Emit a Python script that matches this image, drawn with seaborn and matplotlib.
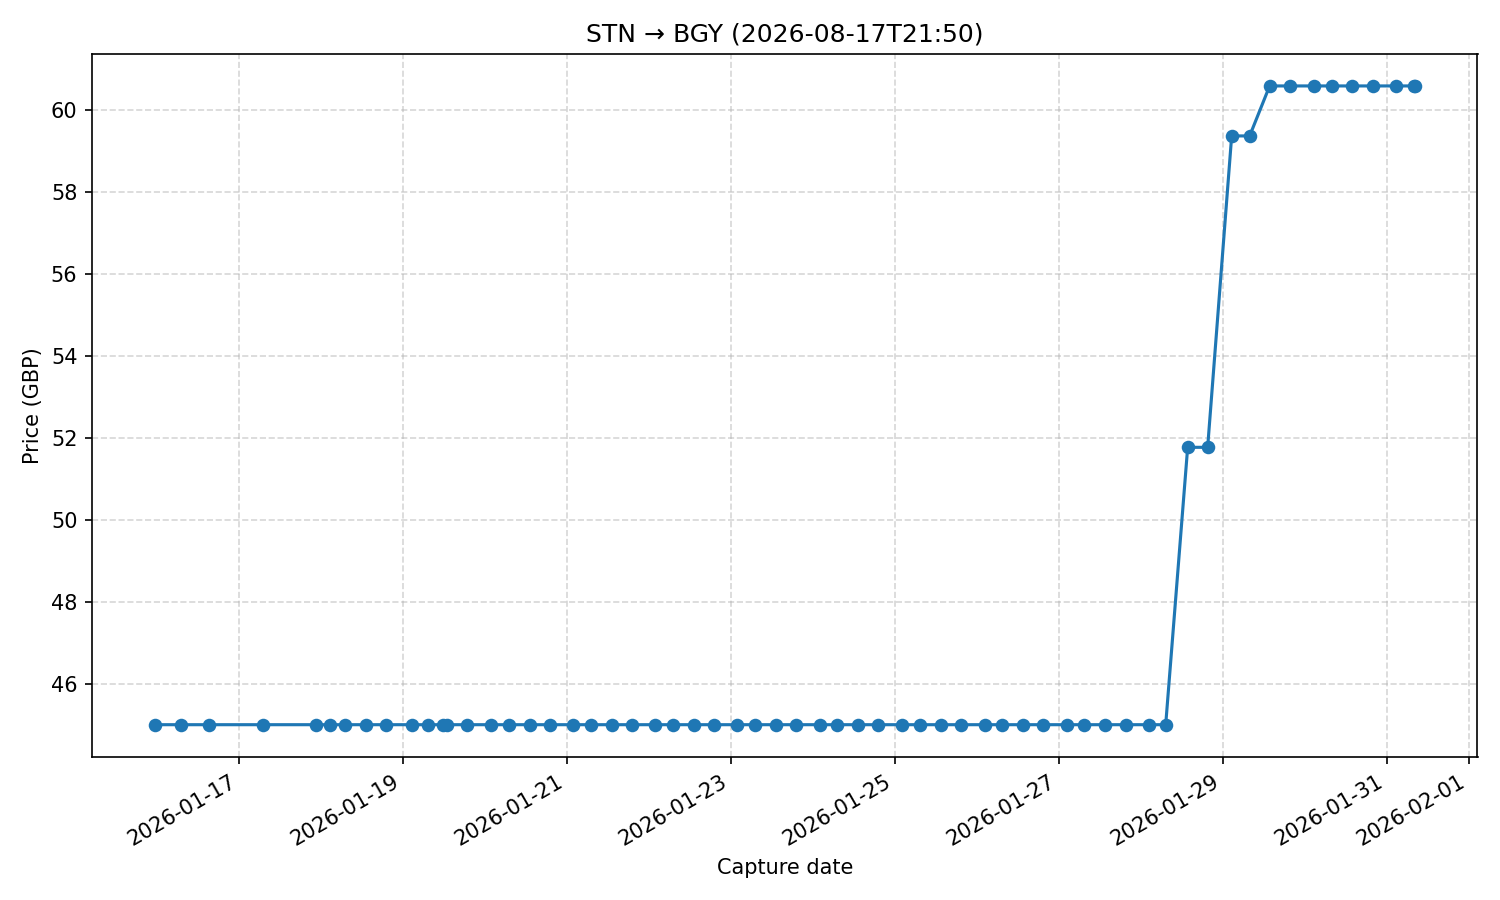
import matplotlib
matplotlib.use("Agg")
import matplotlib.pyplot as plt
import matplotlib.dates as mdates
import seaborn as sns
import pandas as pd

capture_times = [
    "2026-01-15 23:25", "2026-01-16 07:02", "2026-01-16 15:13", "2026-01-17 07:02",
    "2026-01-17 22:32", "2026-01-18 02:38", "2026-01-18 07:02", "2026-01-18 13:10",
    "2026-01-18 19:02", "2026-01-19 02:38", "2026-01-19 07:19", "2026-01-19 11:42",
    "2026-01-19 12:53", "2026-01-19 18:43", "2026-01-20 01:45", "2026-01-20 07:02",
    "2026-01-20 13:10", "2026-01-20 19:02", "2026-01-21 01:45", "2026-01-21 07:02",
    "2026-01-21 13:10", "2026-01-21 19:02", "2026-01-22 01:45", "2026-01-22 07:02",
    "2026-01-22 13:10", "2026-01-22 19:02", "2026-01-23 01:45", "2026-01-23 07:02",
    "2026-01-23 13:10", "2026-01-23 19:02", "2026-01-24 02:02", "2026-01-24 07:02",
    "2026-01-24 13:10", "2026-01-24 19:02", "2026-01-25 02:02", "2026-01-25 07:19",
    "2026-01-25 13:28", "2026-01-25 19:19", "2026-01-26 02:21", "2026-01-26 07:19",
    "2026-01-26 13:28", "2026-01-26 19:19", "2026-01-27 02:21", "2026-01-27 07:19",
    "2026-01-27 13:28", "2026-01-27 19:36", "2026-01-28 02:21", "2026-01-28 07:19",
    "2026-01-28 13:45", "2026-01-28 19:36", "2026-01-29 02:38", "2026-01-29 07:54",
    "2026-01-29 13:45", "2026-01-29 19:36", "2026-01-30 02:38", "2026-01-30 07:54",
    "2026-01-30 13:45", "2026-01-30 19:54", "2026-01-31 02:38", "2026-01-31 07:54",
    "2026-01-31 08:10",
]
prices = [45.0] * 48 + [51.77, 51.77, 59.37, 59.37] + [60.59] * 9

df = pd.DataFrame({"time": pd.to_datetime(capture_times), "price": prices})

fig, ax = plt.subplots(figsize=(10, 6), dpi=150)
sns.lineplot(data=df, x="time", y="price", marker="o", markersize=6.5,
             markeredgewidth=0, color="#1f77b4", linewidth=1.5, ax=ax)
ax.set_title("STN → BGY (2026-08-17T21:50)")
ax.set_xlabel("Capture date")
ax.set_ylabel("Price (GBP)")
ax.grid(True, linestyle="--", alpha=0.5)
ax.xaxis.set_major_locator(mdates.DayLocator(bymonthday=[1, 17, 19, 21, 23, 25, 27, 29, 31]))
ax.xaxis.set_major_formatter(mdates.DateFormatter("%Y-%m-%d"))
fig.autofmt_xdate()
fig.tight_layout()
fig.savefig("out.png")
